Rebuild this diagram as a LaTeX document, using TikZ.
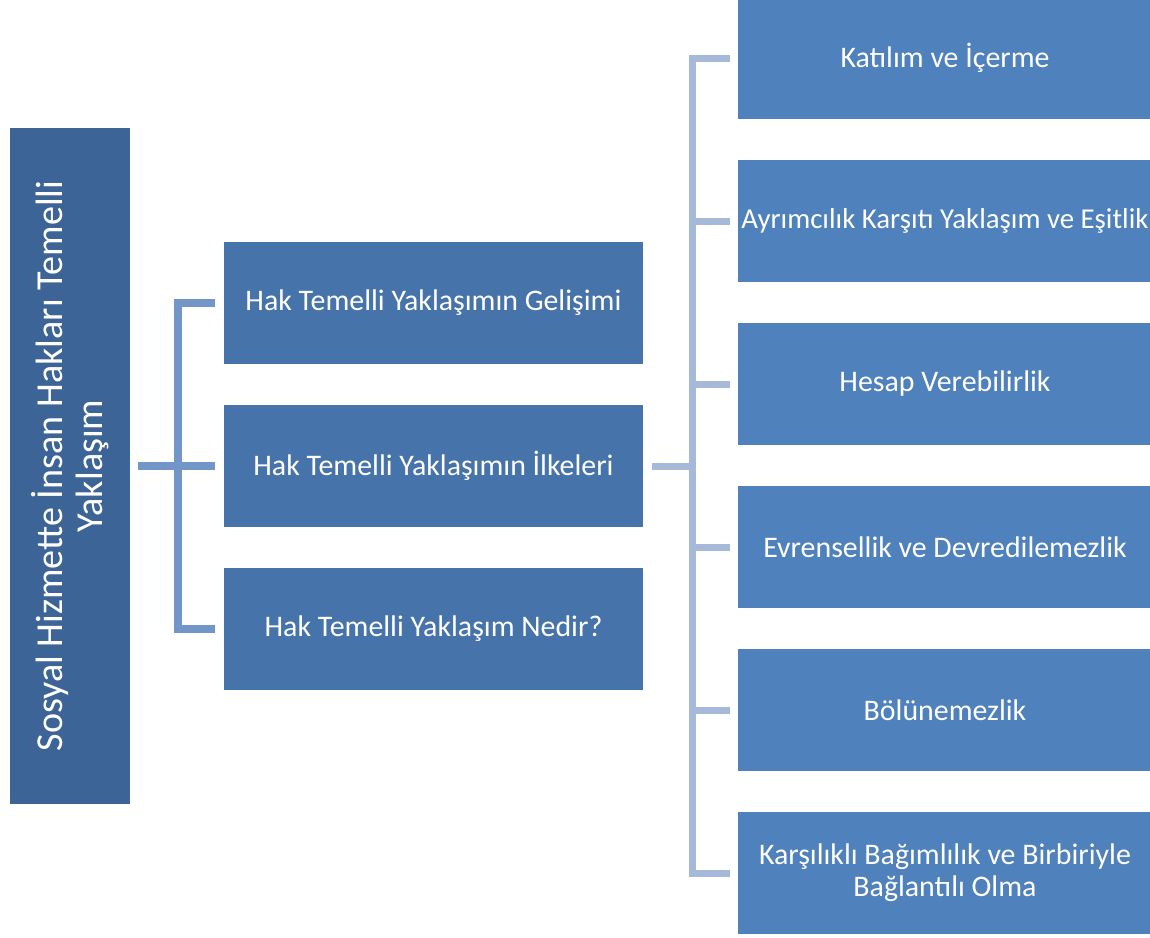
\documentclass[tikz,border=0pt]{standalone}
\usepackage{fontspec}
\setmainfont{Carlito}
\usetikzlibrary{positioning}
\definecolor{rootblue}{HTML}{3D6496}
\definecolor{midblue}{HTML}{4673AA}
\definecolor{leafblue}{HTML}{4F81BD}
\definecolor{forkdark}{HTML}{7396C8}
\definecolor{forklight}{HTML}{A6B9D9}
\tikzset{
  every node/.style={font=\fontsize{17}{18.2}\selectfont,text=white},
  rootbox/.style={fill=rootblue,minimum width=13.52cm,minimum height=2.4cm,
    inner sep=0pt,rotate=90,align=center,
    font=\fontsize{21.7}{22.8}\selectfont},
  midbox/.style={fill=midblue,minimum width=8.38cm,minimum height=2.44cm,inner sep=0pt},
  leafbox/.style={fill=leafblue,minimum width=8.28cm,minimum height=2.44cm,
    inner sep=0pt,align=center},
  forkA/.style={draw=forkdark,line width=0.16cm},
  forkB/.style={draw=forklight,line width=0.14cm}
}

\begin{document}
\begin{tikzpicture}[x=0.02cm,y=-0.02cm]
  \useasboundingbox (0,0) rectangle (1150,937);
  \clip (0,0) rectangle (1150,937);
  % Root box (rotated)
  \node[rootbox] (root) at (70,466) {Sosyal Hizmette İnsan Hakları Temelli\\Yaklaşım};
  % Middle column
  \node[midbox] (dev)  at (433.5,303) {Hak Temelli Yaklaşımın Gelişimi};
  \node[midbox] (prin) at (433.5,466) {Hak Temelli Yaklaşımın İlkeleri};
  \node[midbox] (what) at (433.5,629) {Hak Temelli Yaklaşım Nedir?};
  % Right column (long text fills the whole box width)
  \foreach \name/\yy/\txt in {
      part/58/{Katılım ve İçerme},
      anti/221/{\makebox[8.28cm]{\fontsize{16.4}{18.2}\selectfont Ayrımcılık Karşıtı Yaklaşım ve Eşitlik}},
      acct/384/{Hesap Verebilirlik},
      univ/547/{Evrensellik ve Devredilemezlik},
      indiv/710/{Bölünemezlik},
      inter/873/{Karşılıklı Bağımlılık ve Birbiriyle\\Bağlantılı Olma}}
    \node[leafbox] (\name) at (945,\yy) {\txt};
  % Left fork (root.south is the right side after rotation)
  \coordinate (forkL) at (178,466);
  \draw[forkA,shorten <=0.16cm,shorten >=0.18cm] (root.south) -- (prin.west);
  \draw[forkA,shorten <=0.18cm,shorten >=0.18cm] (dev.west) -| (forkL) |- (what.west);
  % Right fork
  \coordinate (forkR) at (692,466);
  \draw[forkB,shorten <=0.18cm] (prin.east) -- (forkR);
  \draw[forkB,shorten <=0.16cm,shorten >=0.16cm] (part.west) -| (forkR) |- (inter.west);
  \foreach \name in {anti,acct,univ,indiv}
    \draw[forkB,shorten >=0.16cm] (forkR |- \name.west) -- (\name.west);
\end{tikzpicture}
\end{document}
